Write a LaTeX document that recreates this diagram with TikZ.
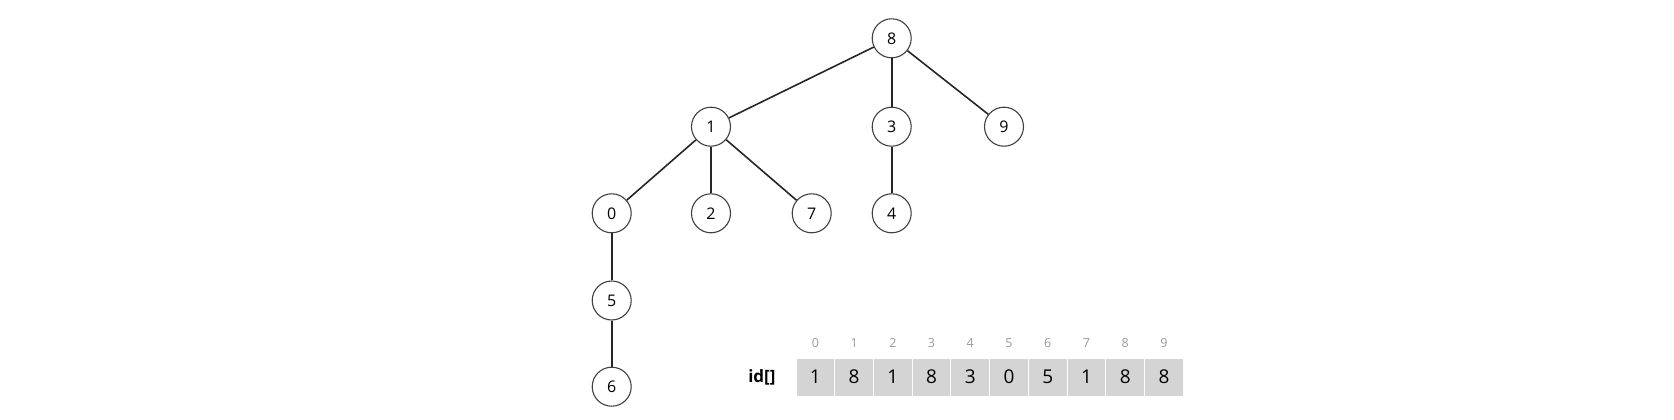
\documentclass[tikz,border=0pt]{standalone}
\usepackage{fontspec}
\setmainfont{Open Sans}
\begin{document}
\begin{tikzpicture}[x=1pt,y=-1pt,
  vtx/.style={circle,draw=black!75,line width=1.1pt,fill=white,minimum size=39pt,inner sep=0pt,font=\fontsize{16}{16}\selectfont},
  edge/.style={line width=1.6pt,black!85},
  cell/.style={rectangle,fill=black!17,draw=white,line width=1pt,minimum width=38.7pt,minimum height=37.7pt,inner sep=0pt,font=\fontsize{19}{19}\selectfont},
  idx/.style={text=black!40,anchor=base,inner sep=0pt,font=\fontsize{12.5}{12.5}\selectfont}]
\useasboundingbox (0,0) rectangle (1674,420);
\node[vtx] (n8) at (891.7,38.3) {8};
\node[vtx] (n1) at (711,126.7) {1};
\node[vtx] (n3) at (891.7,126.7) {3};
\node[vtx] (n9) at (1004,126.7) {9};
\node[vtx] (n0) at (611.7,213.3) {0};
\node[vtx] (n2) at (711,213.3) {2};
\node[vtx] (n7) at (811.7,213.3) {7};
\node[vtx] (n4) at (891.7,213.3) {4};
\node[vtx] (n5) at (611.7,300.5) {5};
\node[vtx] (n6) at (611.7,386.7) {6};
\draw[edge] (n8) -- (n1);
\draw[edge] (n8) -- (n3);
\draw[edge] (n8) -- (n9);
\draw[edge] (n1) -- (n0);
\draw[edge] (n1) -- (n2);
\draw[edge] (n1) -- (n7);
\draw[edge] (n3) -- (n4);
\draw[edge] (n0) -- (n5);
\draw[edge] (n5) -- (n6);
\foreach \i/\v in {0/1,1/8,2/1,3/8,4/3,5/0,6/5,7/1,8/8,9/8}{
  \node[cell] (c\i) at ({796+38.73*\i+19.37},377.2) {\v};
  \node[idx] (k\i) at ({796+38.73*\i+19.37},347.2) {\i};
}
\node[anchor=east,font=\fontsize{17}{17}\selectfont\bfseries] (lbl) at (779,377.2) {id[]};
\end{tikzpicture}
\end{document}
